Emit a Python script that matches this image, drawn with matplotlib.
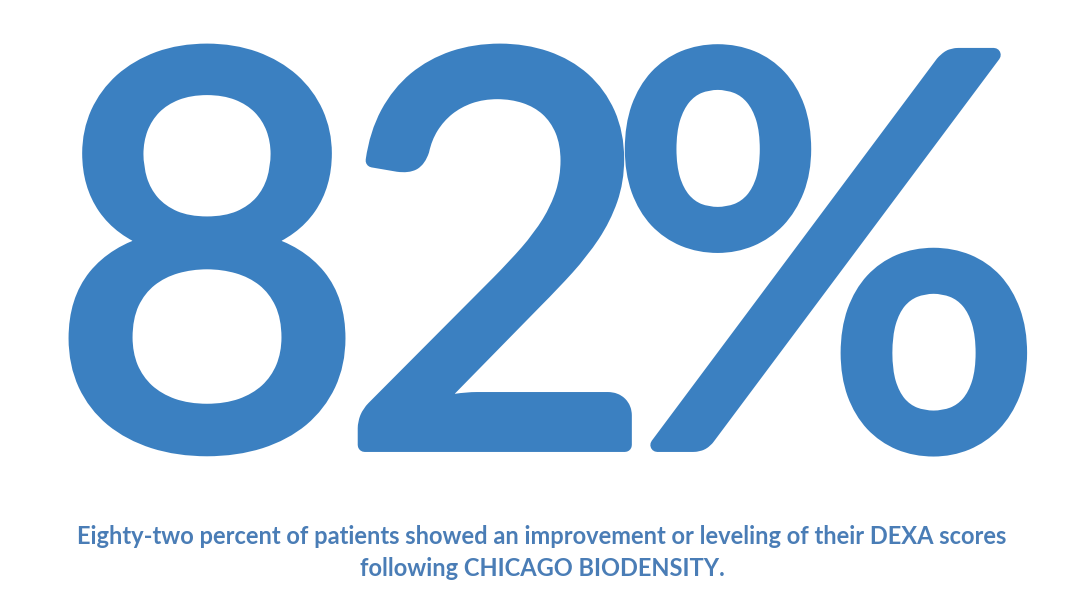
import matplotlib.pyplot as plt
import matplotlib.patheffects as pe

percent = 82
big_chars = list(f"{percent}%")
char_centers_px = [207, 497, 826]
caption_lines = [
    "Eighty-two percent of patients showed an improvement or leveling of their DEXA scores",
    "following CHICAGO BIODENSITY.",
]

blue = '#3b80c1'
cap_blue = '#4a7db6'
W, H = 1080, 613

fig = plt.figure(figsize=(10.8, 6.13), dpi=100)
fig.patch.set_facecolor('white')

# big number, one glyph at a time so the spacing is tighter;
# a stroke in the same colour makes the regular weight a bit heavier
thick = [pe.withStroke(linewidth=10, foreground=blue)]
for ch, cx in zip(big_chars, char_centers_px):
    fig.text(cx / W, 1 - 445 / H, ch, ha='center', va='baseline',
             fontsize=392, family='Lato', color=blue, path_effects=thick)

fig.text(542 / W, 1 - 544 / H, caption_lines[0], ha='center', va='baseline',
         fontsize=17, family='Lato', fontweight='bold', color=cap_blue)
fig.text(542 / W, 1 - 576 / H, caption_lines[1], ha='center', va='baseline',
         fontsize=17, family='Lato', fontweight='bold', color=cap_blue)

fig.savefig('out.png', dpi=100, facecolor='white')
